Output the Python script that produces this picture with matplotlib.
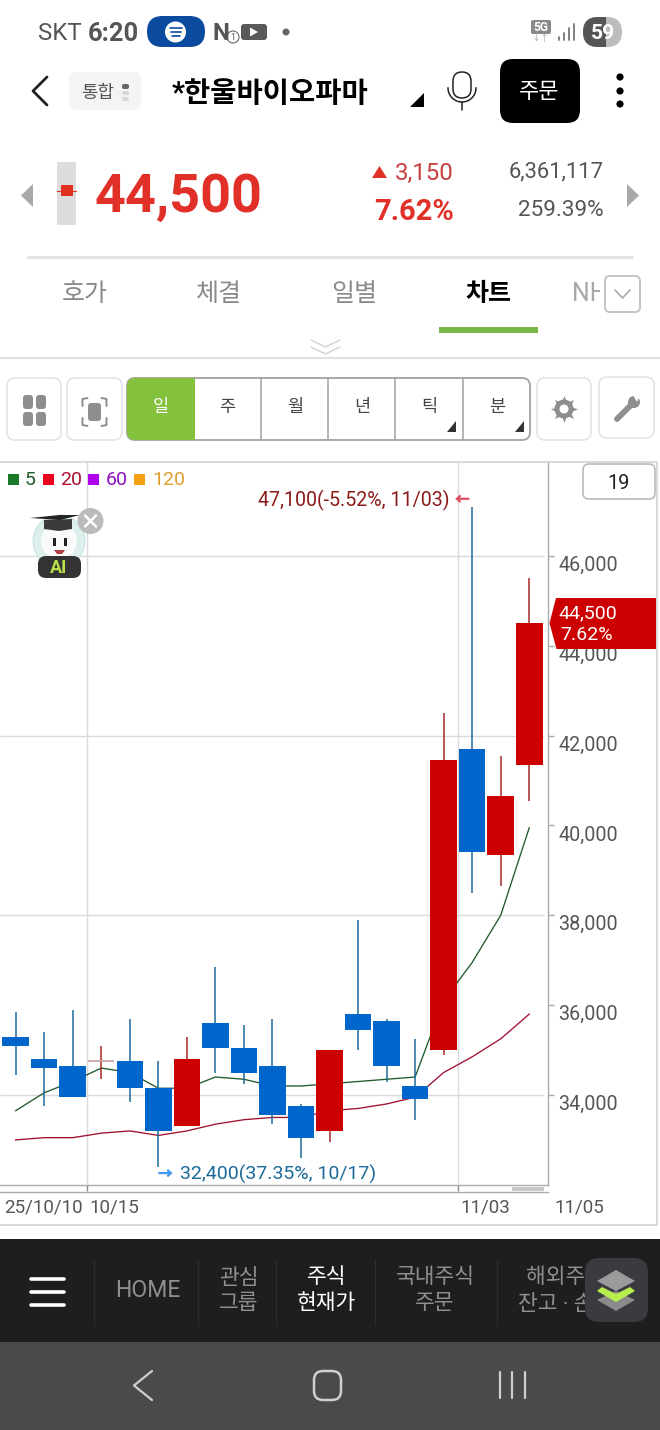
import numpy as np
import matplotlib
matplotlib.use('Agg')
import matplotlib.pyplot as plt
import matplotlib.patheffects as pe
from matplotlib.patches import FancyBboxPatch, Polygon, Circle, Rectangle

plt.rcParams['font.family'] = ['Roboto', 'Noto Sans CJK KR', 'DejaVu Sans']

# daily candles, 19 sessions
opens  = [35300, 34800, 34650, 34750, 34750, 34150, 33300, 35600, 35050, 34650,
          33750, 33200, 35800, 35650, 34200, 35000, 41700, 39350, 41350]
closes = [35100, 34600, 33950, 34750, 34150, 33200, 34800, 35050, 34500, 33550,
          33050, 35000, 35450, 34650, 33900, 41450, 39400, 40650, 44500]
highs  = [35850, 35400, 35900, 35100, 35700, 34750, 35300, 36850, 35550, 35700,
          33800, 35000, 37900, 35700, 35250, 42500, 47100, 41550, 45500]
lows   = [34450, 33750, 33950, 34350, 33850, 32400, 33300, 34500, 34250, 33350,
          32600, 32950, 35000, 34300, 33450, 34900, 38500, 38650, 40550]
up     = [0, 0, 0, 1, 0, 0, 1, 0, 0, 0, 0, 1, 0, 0, 0, 1, 0, 1, 1]
ma5    = [33650, 34050, 34300, 34600, 34500, 34150, 34150, 34400, 34350, 34200,
          34200, 34250, 34300, 34350, 34400, 36100, 36950, 38000, 39950]
ma20   = [33000, 33050, 33050, 33150, 33200, 33100, 33200, 33350, 33450, 33500,
          33500, 33650, 33700, 33800, 33950, 34500, 34850, 35250, 35800]
y_ticks = [34000, 36000, 38000, 40000, 42000, 44000, 46000]
y_grid = [34000, 38000, 42000, 46000]
x_grid = [2.5, 15.5]
date_labels = ['25/10/10', '10/15', '11/03', '11/05']
date_pos = [-0.4, 2.6, 15.6, 18.9]
legend_names = ['5', '20', '60', '120']
tabs = ['호가', '체결', '일별', '차트']
periods = ['일', '주', '월', '년', '틱', '분']

W, H = 660, 1430
RED = '#cc0000'
BLUE = '#0066cc'
GREY = '#555555'

fig = plt.figure(figsize=(W / 100, H / 100), dpi=100, facecolor='white')

# chart axes, placed by pixel box
left, right, top, bottom = 0, 547.5, 462, 1185
ax = fig.add_axes([left / W, 1 - bottom / H, (right - left) / W, (bottom - top) / H])
ax.patch.set_alpha(0)
ax.set_xlim(-0.55, 18.64)
ax.set_ylim(31996, 48092)
for s in ['top', 'left']:
    ax.spines[s].set_visible(False)
for s in ['right', 'bottom']:
    ax.spines[s].set_color('#aaaaaa')
    ax.spines[s].set_linewidth(1.0)

xs = np.arange(len(opens))
ax.hlines(y_grid, -0.55, 18.5, color='#dadada', lw=1.0, zorder=1)
ax.vlines(x_grid, 31996, 48092, color='#dadada', lw=1.0, zorder=1)
ax.plot(xs, ma5, color='#1f5a2a', lw=0.95, zorder=2)
ax.plot(xs, ma20, color='#a01030', lw=0.95, zorder=2)
for i in xs:
    ax.vlines(i, lows[i], highs[i], color='#a52a2a' if up[i] else '#1c6a9c', lw=1.1, zorder=3)
    if opens[i] == closes[i]:
        ax.hlines(opens[i], i - 0.46, i + 0.46, color='#c9a0a0', lw=1.2, zorder=3)
    else:
        ax.bar(i, abs(closes[i] - opens[i]), bottom=min(opens[i], closes[i]), width=0.93,
               color=RED if up[i] else BLUE, zorder=4)

ax.yaxis.tick_right()
ax.set_yticks(y_ticks)
ax.set_yticklabels([f'{v:,}' for v in y_ticks], fontsize=14.2, color=GREY, va='top')
ax.tick_params(axis='y', length=4.3, width=1, color='#aaaaaa', pad=3.5)
ax.set_xticks(x_grid)
ax.set_xticklabels([])
ax.tick_params(axis='x', length=4.3, width=1, color='#888888', direction='out')
for name, pos in zip(date_labels, date_pos):
    ax.annotate(name, (pos, 31996), xytext=(0, -22 * 0.72), textcoords='offset points',
                ha='left', va='center', fontsize=13.5, color=GREY, annotation_clip=False)

# high / low marks
ax.annotate('47,100(-5.52%, 11/03)', (16, max(highs)), xytext=(-22.5 * 0.72, 6.5 * 0.72),
            textcoords='offset points', ha='right', va='center', fontsize=14.1, color='#8b1a1a')
ax.annotate('←', (16, max(highs)), xytext=(-7, 6.5 * 0.72), textcoords='offset points',
            ha='center', va='center', fontsize=10, color='#e05060',
            path_effects=[pe.withStroke(linewidth=0.9, foreground='#e05060')])
ax.annotate('32,400(37.35%, 10/17)', (5, min(lows)), xytext=(22 * 0.72, -7.5 * 0.72),
            textcoords='offset points', ha='left', va='center', fontsize=14.0, color='#1a6a9a')
ax.annotate('→', (5, min(lows)), xytext=(5, -7.5 * 0.72), textcoords='offset points',
            ha='center', va='center', fontsize=10, color='#4499ee',
            path_effects=[pe.withStroke(linewidth=0.9, foreground='#4499ee')])

# everything else sits on a full-figure pixel axes
ui = fig.add_axes([0, 0, 1, 1], zorder=5)
ui.set_xlim(0, W)
ui.set_ylim(H, 0)
ui.axis('off')


def txt(x, y, s, px, color='black', ha='center', weight='normal', z=6, **kw):
    # va=center sits a bit high for these fonts
    return ui.text(x, y + px * 0.07, s, fontsize=px * 0.72, color=color, ha=ha, va='center',
                   fontweight=weight, zorder=z, **kw)


def rrect(x0, y0, x1, y1, r, fc='white', ec='none', lw=1.0, z=3):
    p = FancyBboxPatch((x0 + r, y0 + r), x1 - x0 - 2 * r, y1 - y0 - 2 * r,
                       boxstyle=f'round,pad={r},rounding_size={r}', fc=fc, ec=ec, lw=lw, zorder=z)
    ui.add_patch(p)
    return p


def poly(pts, fc, z=4):
    ui.add_patch(Polygon(pts, closed=True, fc=fc, ec='none', zorder=z))


def line(xx, yy, color, lw, z=4, **kw):
    ui.plot(xx, yy, color=color, lw=lw, zorder=z, solid_capstyle='round', **kw)


# status bar
txt(38, 32, 'SKT', 24, '#555555', ha='left')
txt(88, 32, '6:20', 25.5, '#555555', ha='left', weight='bold')
rrect(147, 16, 205, 47, 15.5, fc='#0a4ba0')
ui.add_patch(Circle((175.5, 32), 10.5, fc='white', ec='none', zorder=4))
for dy, w in zip([-4, 0, 4], [6, 5, 4]):
    line([175.5 - w, 175.5 + w], [32 + dy, 32 + dy], '#0a4ba0', 1.2, z=5)
txt(221, 32, 'N', 24, '#555555', weight='bold')
ui.add_patch(Circle((233, 37), 6, fc='white', ec='#666666', lw=0.8, zorder=5))
txt(233, 37, '1', 9, '#555555')
rrect(241, 24, 267, 40, 3, fc='#5a5a5a')
poly([(250, 27.5), (250, 36.5), (258, 32)], 'white', z=5)
ui.add_patch(Circle((286, 32), 3.5, fc='#666666', ec='none', zorder=4))
rrect(531, 20, 551, 34, 2, fc='#8a8a8a')
txt(541, 27, '5G', 12, 'white', weight='bold')
txt(541, 37.5, '↓↑', 9, '#aaaaaa')
for bx, by in zip([559, 564, 569, 574], [37, 33, 28, 24]):
    line([bx, bx], [by, 40], '#777777', 1.3)
batt = rrect(583, 17, 622, 47, 15, fc='#bdbdbd')
dark = Rectangle((583, 17), 23, 30, fc='#555555', ec='none', zorder=4)
ui.add_patch(dark)
dark.set_clip_path(batt)
txt(603, 32, '59', 21, 'white', weight='bold')

# title row
line([47, 33, 47], [77, 91, 105], '#222222', 2.0)
rrect(69, 72, 141, 110, 7, fc='#f3f4f5')
txt(98, 92, '통합', 18, '#555555')
rrect(122, 84, 129, 89, 2, fc='#666666')
rrect(122, 91, 129, 95, 2, fc='#d8d8d8')
rrect(122, 97, 129, 101, 2, fc='#d8d8d8')
txt(172, 92.5, '*한울바이오파마', 28.5, 'black', ha='left', weight='bold')
poly([(424, 93), (424, 107), (410, 107)], 'black')
rrect(453, 72, 471, 98, 9, fc='white', ec='#222222', lw=1.1)
arc = np.linspace(0, np.pi, 30)
ui.plot(462 + 14 * np.cos(arc), 88 + 14 * np.sin(arc), color='#222222', lw=1.1, zorder=4)
line([462, 462], [102, 110], '#222222', 1.1)
rrect(500, 59, 580, 123, 13, fc='black')
txt(539, 91, '주문', 22, 'white')
for yy in [77, 91, 104]:
    ui.add_patch(Circle((620, yy), 3.6, fc='black', ec='none', zorder=4))

# price row
poly([(33, 184), (33, 207), (21, 195.5)], '#a8a8a8')
ui.add_patch(Rectangle((57, 162), 19, 63, fc='#dddddd', ec='none', zorder=3))
ui.add_patch(Rectangle((61, 185), 12, 11, fc='#e03020', ec='none', zorder=4))
line([57, 76], [191, 191], '#e03020', 0.8)
txt(95, 193.5, '44,500', 54, '#e03028', ha='left', weight='bold')
poly([(372, 178), (387, 178), (379.5, 166)], '#e03028')
txt(454, 172, '3,150', 24, '#c84040', ha='right')
txt(454, 210, '7.62%', 29, '#e03028', ha='right', weight='bold')
txt(604, 170, '6,361,117', 22, '#555555', ha='right')
txt(604, 209, '259.39%', 22.5, '#555555', ha='right')
poly([(627, 184), (627, 207), (639, 195.5)], '#a8a8a8')

# tab row
line([28, 632], [257, 257], '#e2e2e2', 2.2)
for name, cx in zip(tabs, [85, 219, 354, 488]):
    active = name == '차트'
    txt(cx, 292, name, 25, 'black' if active else '#8a8a8a', weight='bold' if active else 'normal')
txt(572, 292, 'NH', 25, '#a8a8a8', ha='left')
rrect(600, 270, 660, 320, 1, fc='white', z=6)
rrect(605, 276, 640, 312, 5, fc='white', ec='#c4c4c4', lw=1.4, z=7)
line([615, 622.5, 630], [290, 298, 290], '#aaaaaa', 1.2, z=8)
ui.add_patch(Rectangle((439, 327), 99, 5.5, fc='#7ab648', ec='none', zorder=4))
line([311, 325.5, 340], [340, 347, 340], '#d5d5d5', 1.1)
line([311, 325.5, 340], [347, 354, 347], '#d5d5d5', 1.1)
ui.plot([0, W], [357.5, 357.5], color='#e0e0e0', lw=1.5, zorder=3)

# period toolbar
rrect(7, 378, 61, 440, 8, fc='white', ec='#e2e2e2', lw=1.1)
for gx, gy in [(28, 402), (41, 402), (28, 419), (41, 419)]:
    rrect(gx - 5, gy - 7, gx + 5, gy + 7, 3, fc='#8e8e8e', z=4)
rrect(67, 378, 122, 440, 8, fc='white', ec='#e2e2e2', lw=1.1)
rrect(88, 403, 101, 421, 3, fc='#8e8e8e', z=4)
for sx, sy in [(1, 1), (-1, 1), (1, -1), (-1, -1)]:
    line([94.5 + sx * 12, 94.5 + sx * 12, 94.5 + sx * 7], [412 + sy * 6, 412 + sy * 13, 412 + sy * 14],
         '#8e8e8e', 1.4)
seg = rrect(127, 378, 530, 440, 8, fc='white', ec='#a8a8a8', lw=1.4, z=3)
act = Rectangle((127, 378), 67.5, 62, fc='#84c13c', ec='none', zorder=4)
ui.add_patch(act)
act.set_clip_path(seg)
for bx in [261, 328, 395, 463]:
    ui.plot([bx, bx], [378, 440], color='#a8a8a8', lw=1.2, zorder=4)
for name, cx in zip(periods, [160.5, 227, 295, 362, 429, 497]):
    txt(cx, 406, name, 17.5, 'white' if name == '일' else '#444444')
poly([(456, 421), (456, 432), (447, 432)], '#333333', z=5)
poly([(524, 421), (524, 432), (515, 432)], '#333333', z=5)
rrect(537, 378, 591, 440, 8, fc='white', ec='#e2e2e2', lw=1.1)
ui.scatter([564], [409], marker=(8, 1, 0), s=380, c='#8e8e8e', zorder=4, linewidths=0)
ui.add_patch(Circle((564, 409), 9.5, fc='#8e8e8e', ec='none', zorder=4))
ui.add_patch(Circle((564, 409), 4.5, fc='white', ec='none', zorder=5))
rrect(599, 377, 654, 438, 8, fc='white', ec='#e2e2e2', lw=1.1)
line([617, 633], [419, 403], '#8e8e8e', 4.2)
ui.add_patch(Circle((634, 402), 6, fc='#8e8e8e', ec='none', zorder=4))
poly([(633, 395), (640, 395), (637, 402)], 'white', z=5)

# chart frame, legend, count box
ui.plot([0, 656.5, 656.5, 0], [461.5, 461.5, 1225, 1225], color='#d0d0d0', lw=1.1, zorder=2)
ui.plot([0, 547.5], [1192, 1192], color='#aaaaaa', lw=1.0, zorder=2)
ui.add_patch(Rectangle((512, 1187), 32, 4, fc='#c8c8c8', ec='none', zorder=3))
sq_cols = ['#1a7a2a', '#ee0020', '#b000f0', '#f5a010']
txt_cols = ['#1f5a2a', '#b01030', '#8a10c0', '#dda030']
for name, sx, tx, c1, c2 in zip(legend_names, [8, 43, 88, 134], [25, 60, 106, 152], sq_cols, txt_cols):
    ui.add_patch(Rectangle((sx, 474), 11, 11, fc=c1, ec='none', zorder=4))
    txt(tx, 479, name, 19.5, c2, ha='left')
rrect(583, 464, 655, 499, 6, fc='white', ec='#bbbbbb', lw=1.2)
txt(619, 482, '19', 20, '#222222')

# current price tag
poly([(549.5, 623), (556, 598), (656, 598), (656, 649), (556.5, 649)], RED, z=5)
txt(558.5, 612, '44,500', 19.5, 'white', ha='left')
txt(560.5, 634, '7.62%', 19.5, 'white', ha='left')

# AI helper
ui.add_patch(Circle((59, 541), 26, fc='#dcefed', ec='#c8e4e2', lw=0.8, zorder=5))
ui.add_patch(Circle((59, 541), 18, fc='#fafafa', ec='none', zorder=5))
poly([(44, 520), (72, 519), (72, 529), (59, 531), (44, 529)], '#3a3a3a', z=6)
poly([(30, 518), (60, 515), (80, 515), (60, 520)], '#222222', z=6)
ui.add_patch(Rectangle((53, 538), 2.5, 8, fc='#222222', ec='none', zorder=6))
ui.add_patch(Rectangle((64, 538), 2.5, 8, fc='#222222', ec='none', zorder=6))
poly([(54, 550), (65, 550), (62, 554), (57, 554)], '#b04040', z=6)
rrect(38, 556, 81, 578, 8, fc='#333333', z=6)
txt(59, 567, 'AI', 18, '#b8e04a', weight='bold', z=7)
ui.add_patch(Circle((90.5, 521), 13, fc='#bbbbbb', ec='none', zorder=7))
line([85, 96], [515.5, 526.5], 'white', 1.8, z=8)
line([96, 85], [515.5, 526.5], 'white', 1.8, z=8)

# bottom menu
ui.add_patch(Rectangle((0, 1239), W, 103, fc='#1e1e1e', ec='none', zorder=3))
ui.add_patch(Rectangle((0, 1342), W, 88, fc='#4a4a4a', ec='none', zorder=3))
for yy in [1279, 1292, 1305]:
    line([31, 64], [yy, yy], 'white', 2.6)
for bx in [94, 198, 276, 375, 497]:
    ui.plot([bx, bx], [1260, 1325], color='#2e2e2e', lw=0.8, zorder=4)
txt(148, 1289, 'HOME', 23, '#8f8f8f')
txt(239, 1276, '관심', 21.5, '#8f8f8f')
txt(239, 1302, '그룹', 21.5, '#8f8f8f')
txt(327, 1276, '주식', 21.5, 'white')
txt(327, 1302, '현재가', 21.5, 'white')
txt(435, 1276, '국내주식', 21.5, '#8f8f8f')
txt(435, 1302, '주문', 21.5, '#8f8f8f')
txt(526, 1276, '해외주식', 21.5, '#8f8f8f', ha='left')
txt(518, 1302, '잔고 · 손익', 21.5, '#8f8f8f', ha='left')
rrect(585, 1258, 660, 1322, 14, fc='#1e1e1e', z=6)
ui.add_patch(Rectangle((648, 1258), 12, 64, fc='#1e1e1e', ec='none', zorder=6))
rrect(585, 1258, 648, 1322, 14, fc='#3a3b40', z=7)
poly([(597, 1300), (616, 1291), (635, 1300), (616, 1311)], '#8a8a8a', z=8)
poly([(597, 1291), (602, 1287), (616, 1294), (630, 1287), (635, 1291), (616, 1302)], '#b6ee50', z=9)
poly([(597, 1281), (616, 1270), (635, 1281), (616, 1291)], '#9a9a9a', z=9)

# android buttons
line([152, 134, 152], [1371, 1385.5, 1400], '#cfcfcf', 1.6)
rrect(314, 1371, 341, 1400, 9, fc='none', ec='#cfcfcf', lw=1.8, z=4)
for bx in [499.5, 512, 524.5]:
    line([bx, bx], [1372, 1398], '#cfcfcf', 1.6)

fig.savefig('out.png', dpi=100, facecolor='white')
